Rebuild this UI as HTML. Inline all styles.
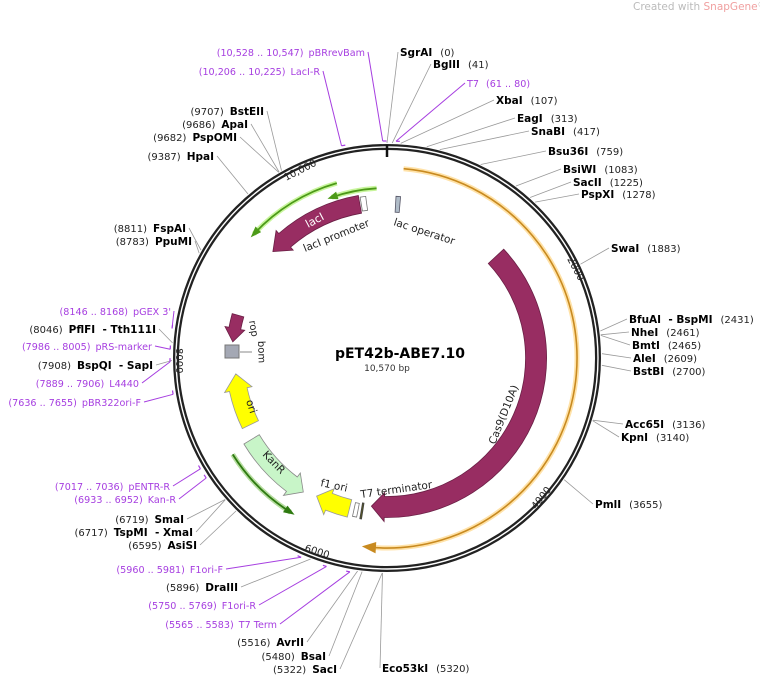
<!DOCTYPE html>
<html><head><meta charset="utf-8"><style>
html,body{margin:0;padding:0;background:#fff;width:760px;height:676px;overflow:hidden}
svg{display:block;font-family:"DejaVu Sans","Liberation Sans",sans-serif}
.b{font-weight:bold;fill:#000;font-size:10.5px}
.n{fill:#222;font-size:10px}
.p{fill:#a63ee0;font-size:9.6px}
</style></head><body>
<svg id="s" width="760" height="676" viewBox="0 0 760 676">
<text x="633" y="10" font-size="10.5" fill="#bbb">Created with <tspan fill="#f0a0a0">SnapGene</tspan><tspan font-size="7" dy="-3">®</tspan></text>
<g id="shapes"></g>
<g id="lines"></g>
<circle cx="387" cy="358" r="211" fill="none" stroke="#222" stroke-width="6"/>
<circle cx="387" cy="358" r="211" fill="none" stroke="#fff" stroke-width="1.4"/>
<line x1="387" y1="145" x2="387" y2="157" stroke="#111" stroke-width="2.5"/>
<text x="0" y="0" font-size="10" fill="#222" transform="translate(286,181) rotate(-27)">10,000</text>
<text x="0" y="0" font-size="10" fill="#222" transform="translate(567,259) rotate(62)">2000</text>
<text x="0" y="0" font-size="10" fill="#222" transform="translate(536,510) rotate(-52)">4000</text>
<text x="0" y="0" font-size="10" fill="#222" transform="translate(304,551) rotate(17)">6000</text>
<text x="0" y="0" font-size="10" fill="#222" transform="translate(176,348) rotate(90)">8000</text>
<text x="400" y="358" text-anchor="middle" font-size="14" font-weight="bold">pET42b-ABE7.10</text>
<text x="387" y="371" text-anchor="middle" font-size="9" fill="#333">10,570 bp</text>
<text x="0" y="0" font-size="11" fill="#fff" transform="translate(308,228) rotate(-28)">lacI</text>
<text x="0" y="0" font-size="10.5" fill="#222" transform="translate(305,252) rotate(-22)">lacI promoter</text>
<text x="0" y="0" font-size="10.5" fill="#222" transform="translate(393,225) rotate(18)">lac operator</text>
<text x="0" y="0" font-size="10.5" fill="#222" transform="translate(495,445) rotate(-68)">Cas9(D10A)</text>
<text x="0" y="0" font-size="10.5" fill="#222" transform="translate(320,486) rotate(12)">f1 ori</text>
<text x="0" y="0" font-size="10.5" fill="#222" transform="translate(361,498) rotate(-8)">T7 terminator</text>
<text x="0" y="0" font-size="10.5" fill="#222" transform="translate(262,455) rotate(46)">KanR</text>
<text x="0" y="0" font-size="10.5" fill="#222" transform="translate(246,401) rotate(72)">ori</text>
<text x="0" y="0" font-size="10" fill="#222" transform="translate(249,321) rotate(80)">rop</text>
<text x="0" y="0" font-size="10" fill="#222" transform="translate(258,341) rotate(88)">bom</text>
<line x1="240" y1="352" x2="252" y2="352" stroke="#888"/>
<rect x="225" y="345" width="14" height="13" fill="#a4a8b4" stroke="#777"/>
<g id="labels"></g>
</svg>
<script>
var cx=387,cy=358,N=10570;
function P(a,r){var t=a*Math.PI/180;return [cx+r*Math.sin(t),cy-r*Math.cos(t)];}
function f(p){return p[0].toFixed(1)+","+p[1].toFixed(1);}
function arc(a1,a2,r){var s=P(a1,r),e=P(a2,r);var large=Math.abs(a2-a1)>180?1:0;var sw=a2>a1?1:0;return "M"+f(s)+" A"+r+","+r+" 0 "+large+" "+sw+" "+f(e);}
function band(a1,a2,r,w,h,hw){var d=a2>a1?1:-1;var ab=a2-d*h;var ro=r+w/2,ri=r-w/2;
 var large=Math.abs(ab-a1)>180?1:0;var sw=d>0?1:0;
 return "M"+f(P(a1,ro))+" A"+ro+","+ro+" 0 "+large+" "+sw+" "+f(P(ab,ro))+" L"+f(P(ab,ro+hw))+" L"+f(P(a2,r))+" L"+f(P(ab,ri-hw))+" L"+f(P(ab,ri))+" A"+ri+","+ri+" 0 "+large+" "+(1-sw)+" "+f(P(a1,ri))+" Z";}
var S="";
function path(d,fill,stroke,sw,extra){S+='<path d="'+d+'" fill="'+fill+'" stroke="'+stroke+'" stroke-width="'+(sw||1)+'" '+(extra||'')+'/>';}
path(arc(5,185,190),"none","#ffe2a8",5);
path(arc(5,185,190),"none","#c88a20",1.6);
path("M"+f(P(187.2,190))+" L"+f(P(183.5,185))+" L"+f(P(183.5,195))+" Z","#c88a20","#c88a20",1);
function garc(a1,a2,r,dark){path(arc(a1,a2,r),"none",dark?"#b6dca0":"#c8f59c",5);path(arc(a1,a2,r),"none",dark?"#2e7a10":"#4c9a18",1.8);
 var d=a2>a1?1:-1;path("M"+f(P(a2+d*1.5,r))+" L"+f(P(a2-d*2,r-4))+" L"+f(P(a2-d*2,r+4))+" Z",dark?"#2e7a10":"#4c9a18","none");}
garc(-3.5,-19,170,false);
garc(-16,-47,182,false);
garc(238,212,182,true);
path(band(47,186,149,21,5,4),"#982d62","#6a1f45",0.8);
path(band(-10,-47,156,18,6,4),"#982d62","#6a1f45",0.8);
path(band(-9.5,-7.5,156,14,0,0),"#fff","#777",0.8);
path(band(3.2,4.8,154,16,0,0),"#b0bcc8","#556",0.8);
path(band(244,264,152,18,6,5),"#ffff00","#999",0.8);
path(band(239,212,158,18,5,5),"#c8f5c8","#888",0.8);
path(band(194,207,155,18,5,5),"#ffff00","#999",0.8);
path(band(192.3,190.8,155,14,0,0),"#fff","#777",0.8);
path(band(189.6,189.0,155,16,0,0),"#552","#444",0.8);
path(band(286,276,155,12,5,4),"#982d62","#6a1f45",0.8);
document.getElementById("shapes").innerHTML=S;
var L=[
["SgrAI","(0)",400,56,"s",0,0],["BglII","(41)",433,68,"s",0,41],["T7","(61 .. 80)",467,87,"s",1,70],
["XbaI","(107)",496,104,"s",0,107],["EagI","(313)",517,122,"s",0,313],["SnaBI","(417)",531,135,"s",0,417],
["Bsu36I","(759)",548,155,"s",0,759],["BsiWI","(1083)",563,173,"s",0,1083],["SacII","(1225)",573,186,"s",0,1225],
["PspXI","(1278)",581,198,"s",0,1278],["SwaI","(1883)",611,252,"s",0,1883],["BfuAI  - BspMI","(2431)",629,323,"s",0,2431],
["NheI","(2461)",631,336,"s",0,2461],["BmtI","(2465)",632,349,"s",0,2465],["AleI","(2609)",633,362,"s",0,2609],
["BstBI","(2700)",633,375,"s",0,2700],["Acc65I","(3136)",625,428,"s",0,3136],["KpnI","(3140)",621,441,"s",0,3140],
["PmlI","(3655)",595,508,"s",0,3655],["Eco53kI","(5320)",382,672,"s",0,5320],
["BstEII","(9707)",264,115,"e",0,9707],["ApaI","(9686)",248,128,"e",0,9686],["PspOMI","(9682)",237,141,"e",0,9682],
["HpaI","(9387)",214,160,"e",0,9387],["FspAI","(8811)",186,232,"e",0,8811],["PpuMI","(8783)",192,245,"e",0,8783],
["pGEX 3'","(8146 .. 8168)",171,315,"e",1,8157],["PflFI  - Tth111I","(8046)",156,333,"e",0,8046],
["pRS-marker","(7986 .. 8005)",152,350,"e",1,7995],["BspQI  - SapI","(7908)",153,369,"e",0,7908],
["L4440","(7889 .. 7906)",139,387,"e",1,7897],["pBR322ori-F","(7636 .. 7655)",141,406,"e",1,7645],
["pENTR-R","(7017 .. 7036)",170,490,"e",1,7026],["Kan-R","(6933 .. 6952)",176,503,"e",1,6942],
["SmaI","(6719)",184,523,"e",0,6719],["TspMI  - XmaI","(6717)",193,536,"e",0,6717],["AsiSI","(6595)",197,549,"e",0,6595],
["F1ori-F","(5960 .. 5981)",223,573,"e",1,5970],["DraIII","(5896)",238,591,"e",0,5896],
["F1ori-R","(5750 .. 5769)",256,609,"e",1,5760],["T7 Term","(5565 .. 5583)",277,628,"e",1,5574],
["AvrII","(5516)",304,646,"e",0,5516],["BsaI","(5480)",326,660,"e",0,5480],["SacI","(5322)",337,673,"e",0,5322],
["pBRrevBam","(10,528 .. 10,547)",365,56,"e",1,10537],["LacI-R","(10,206 .. 10,225)",320,75,"e",1,10215]
];
var T="",Ln="";
L.forEach(function(l){var nm=l[0],ps=l[1],x=l[2],y=l[3],a=l[4],pu=l[5],pos=l[6],lx,ly;
 if(a=="s"){
  T+='<text x="'+x+'" y="'+y+'"><tspan class="'+(pu?'p':'b')+'">'+nm.replace(/ /g,"&#160;")+'</tspan><tspan class="'+(pu?'p':'n')+'" dx="'+(pu?7:8)+'">'+ps+'</tspan></text>';
  lx=x-2;ly=y-4;
 } else {
  T+='<text x="'+x+'" y="'+y+'" text-anchor="end"><tspan class="'+(pu?'p':'n')+'">'+ps+'</tspan><tspan class="'+(pu?'p':'b')+'" dx="'+(pu?5:6)+'">'+nm.replace(/ /g,"&#160;")+'</tspan></text>';
  lx=x+3;ly=y-4;
 }
 var ang=pos/N*360;var t=P(ang,pu?217:215);
 Ln+='<line x1="'+lx+'" y1="'+ly+'" x2="'+t[0].toFixed(1)+'" y2="'+t[1].toFixed(1)+'" stroke="'+(pu?'#a63ee0':'#999')+'" stroke-width="'+(pu?1:0.8)+'"/>';
 if(pu){var t2=P(ang+1,217);Ln+='<line x1="'+t[0].toFixed(1)+'" y1="'+t[1].toFixed(1)+'" x2="'+t2[0].toFixed(1)+'" y2="'+t2[1].toFixed(1)+'" stroke="#a63ee0" stroke-width="1.2"/>';}
});
document.getElementById("labels").innerHTML=T;
document.getElementById("lines").innerHTML=Ln;
</script>
</body></html>
